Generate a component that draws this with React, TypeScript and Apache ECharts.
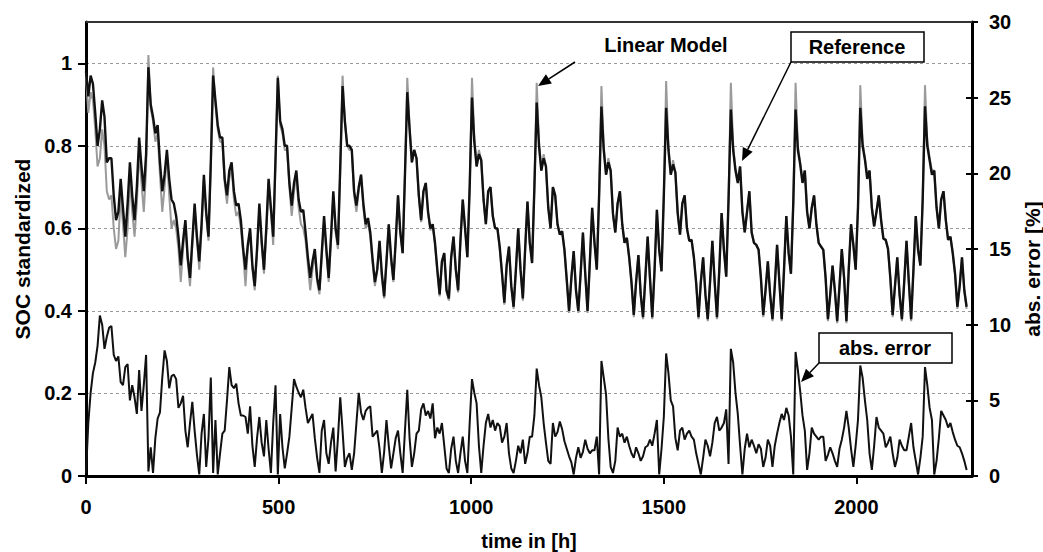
import React, { useEffect, useRef } from "react";
import * as echarts from "echarts";

// sampling step of the series (hours)
const STEP_HOURS = 6;
const X_TICKS = [0, 500, 1000, 1500, 2000];
const SOC_TICKS = [0, 0.2, 0.4, 0.6, 0.8, 1];
const ERR_TICKS = [0, 5, 10, 15, 20, 25, 30];

// Linear Model (black), SOC standardized, every 6 h from t = 0
const linearModel = [
  // t 0..156
  0.98, 0.92, 0.97, 0.95, 0.88, 0.8, 0.84, 0.91, 0.87, 0.76, 0.77, 0.77, 0.68, 0.62, 0.64, 0.72, 0.65, 0.58, 0.66, 0.76, 0.68, 0.62, 0.7, 0.82, 0.75, 0.69, 0.78,
  // t 162..
  0.99, 0.9, 0.87, 0.83, 0.85, 0.76, 0.69, 0.73, 0.79, 0.72, 0.67, 0.66, 0.63, 0.58, 0.51, 0.57, 0.62, 0.53, 0.48, 0.57, 0.66, 0.58, 0.52, 0.61, 0.73, 0.64, 0.58, 0.76,
  // t 330..
  0.97, 0.91, 0.85, 0.82, 0.82, 0.72, 0.68, 0.74, 0.76, 0.69, 0.655, 0.66, 0.62, 0.55, 0.5, 0.56, 0.6, 0.51, 0.46, 0.55, 0.66, 0.57, 0.5, 0.6, 0.72, 0.65, 0.58, 0.77,
  // t 498..
  0.965, 0.86, 0.84, 0.8, 0.8, 0.71, 0.655, 0.71, 0.74, 0.67, 0.64, 0.645, 0.59, 0.53, 0.48, 0.52, 0.55, 0.48, 0.45, 0.54, 0.63, 0.55, 0.48, 0.58, 0.69, 0.6, 0.56, 0.75,
  // t 666..
  0.945, 0.86, 0.8, 0.8, 0.79, 0.69, 0.655, 0.7, 0.73, 0.66, 0.61, 0.625, 0.59, 0.525, 0.47, 0.5, 0.57, 0.49, 0.435, 0.52, 0.61, 0.53, 0.475, 0.57, 0.68, 0.59, 0.54, 0.73,
  // t 834..
  0.93, 0.84, 0.76, 0.79, 0.77, 0.68, 0.62, 0.69, 0.71, 0.64, 0.6, 0.61, 0.565, 0.5, 0.44, 0.52, 0.54, 0.45, 0.43, 0.53, 0.58, 0.5, 0.45, 0.57, 0.67, 0.6, 0.53, 0.7,
  // t 1002..
  0.917, 0.81, 0.75, 0.78, 0.765, 0.67, 0.61, 0.69, 0.7, 0.63, 0.6, 0.6, 0.555, 0.49, 0.42, 0.51, 0.556, 0.46, 0.41, 0.5, 0.6, 0.5, 0.43, 0.55, 0.665, 0.565, 0.516, 0.7,
  // t 1170..
  0.905, 0.8, 0.74, 0.77, 0.75, 0.65, 0.6, 0.7, 0.68, 0.61, 0.585, 0.593, 0.548, 0.475, 0.4, 0.48, 0.545, 0.45, 0.4, 0.49, 0.59, 0.49, 0.4, 0.52, 0.65, 0.565, 0.5, 0.68,
  // t 1338..
  0.895, 0.79, 0.73, 0.76, 0.74, 0.635, 0.59, 0.66, 0.69, 0.61, 0.565, 0.577, 0.53, 0.47, 0.39, 0.47, 0.535, 0.44, 0.385, 0.48, 0.58, 0.48, 0.385, 0.5, 0.645, 0.548, 0.496, 0.68,
  // t 1506..
  0.892, 0.79, 0.73, 0.755, 0.735, 0.637, 0.585, 0.66, 0.68, 0.6, 0.57, 0.572, 0.53, 0.467, 0.385, 0.47, 0.53, 0.44, 0.38, 0.47, 0.57, 0.47, 0.385, 0.5, 0.637, 0.548, 0.483, 0.67,
  // t 1674..
  0.888, 0.79, 0.74, 0.71, 0.75, 0.64, 0.59, 0.64, 0.69, 0.59, 0.565, 0.56, 0.548, 0.48, 0.39, 0.45, 0.52, 0.44, 0.38, 0.46, 0.56, 0.47, 0.38, 0.5, 0.63, 0.54, 0.49, 0.66,
  // t 1842..
  0.888, 0.79, 0.755, 0.71, 0.74, 0.64, 0.6, 0.65, 0.68, 0.61, 0.565, 0.556, 0.548, 0.48, 0.38, 0.44, 0.51, 0.45, 0.375, 0.46, 0.55, 0.48, 0.375, 0.5, 0.61, 0.56, 0.5, 0.65,
  // t 2010..
  0.892, 0.8, 0.767, 0.72, 0.74, 0.65, 0.605, 0.64, 0.68, 0.62, 0.575, 0.572, 0.55, 0.48, 0.39, 0.46, 0.53, 0.44, 0.38, 0.47, 0.57, 0.47, 0.38, 0.5, 0.63, 0.548, 0.51, 0.67,
  // t 2178..2286
  0.896, 0.8, 0.765, 0.73, 0.74, 0.65, 0.6, 0.67, 0.69, 0.62, 0.572, 0.58, 0.54, 0.49, 0.41, 0.46, 0.53, 0.45, 0.41,
];

// Reference (grey), SOC standardized, every 6 h from t = 0
const reference = [
  0.97, 0.88, 0.93, 0.91, 0.84, 0.75, 0.77, 0.84, 0.8, 0.69, 0.67, 0.68, 0.6, 0.55, 0.57, 0.68, 0.61, 0.53, 0.6, 0.72, 0.64, 0.58, 0.66, 0.79, 0.71, 0.64, 0.74,
  1.02, 0.89, 0.86, 0.81, 0.83, 0.73, 0.64, 0.7, 0.78, 0.68, 0.6, 0.62, 0.6, 0.55, 0.47, 0.55, 0.61, 0.52, 0.46, 0.56, 0.65, 0.57, 0.5, 0.6, 0.72, 0.63, 0.57, 0.75,
  0.99, 0.9, 0.84, 0.81, 0.81, 0.71, 0.66, 0.72, 0.75, 0.67, 0.63, 0.64, 0.6, 0.54, 0.46, 0.55, 0.59, 0.5, 0.45, 0.54, 0.65, 0.56, 0.49, 0.59, 0.71, 0.64, 0.56, 0.76,
  0.97, 0.85, 0.83, 0.79, 0.79, 0.7, 0.63, 0.69, 0.73, 0.65, 0.61, 0.6, 0.57, 0.51, 0.45, 0.5, 0.54, 0.47, 0.44, 0.53, 0.62, 0.54, 0.47, 0.57, 0.68, 0.59, 0.55, 0.74,
  0.97, 0.86, 0.8, 0.79, 0.79, 0.68, 0.64, 0.69, 0.73, 0.65, 0.6, 0.615, 0.58, 0.515, 0.46, 0.5, 0.565, 0.48, 0.43, 0.52, 0.61, 0.52, 0.47, 0.57, 0.68, 0.59, 0.54, 0.73,
  0.965, 0.85, 0.76, 0.79, 0.77, 0.675, 0.615, 0.69, 0.71, 0.635, 0.595, 0.61, 0.56, 0.495, 0.435, 0.52, 0.54, 0.445, 0.425, 0.53, 0.58, 0.5, 0.445, 0.57, 0.67, 0.6, 0.53, 0.7,
  0.965, 0.82, 0.75, 0.79, 0.765, 0.67, 0.61, 0.69, 0.7, 0.63, 0.6, 0.6, 0.55, 0.49, 0.415, 0.51, 0.556, 0.46, 0.405, 0.5, 0.6, 0.5, 0.425, 0.55, 0.665, 0.565, 0.516, 0.7,
  0.953, 0.81, 0.74, 0.78, 0.75, 0.65, 0.6, 0.7, 0.68, 0.61, 0.585, 0.593, 0.548, 0.475, 0.395, 0.48, 0.545, 0.45, 0.395, 0.49, 0.59, 0.49, 0.395, 0.52, 0.65, 0.565, 0.5, 0.68,
  0.945, 0.8, 0.73, 0.77, 0.74, 0.635, 0.59, 0.66, 0.69, 0.61, 0.565, 0.577, 0.53, 0.47, 0.385, 0.47, 0.535, 0.44, 0.38, 0.48, 0.58, 0.48, 0.38, 0.5, 0.645, 0.548, 0.496, 0.68,
  0.957, 0.8, 0.73, 0.765, 0.735, 0.637, 0.585, 0.66, 0.68, 0.6, 0.57, 0.572, 0.53, 0.467, 0.38, 0.47, 0.53, 0.44, 0.375, 0.47, 0.57, 0.47, 0.38, 0.5, 0.637, 0.548, 0.483, 0.67,
  0.953, 0.8, 0.745, 0.72, 0.75, 0.64, 0.59, 0.64, 0.69, 0.59, 0.565, 0.56, 0.548, 0.48, 0.385, 0.45, 0.52, 0.44, 0.375, 0.46, 0.56, 0.47, 0.375, 0.5, 0.63, 0.54, 0.49, 0.66,
  0.953, 0.8, 0.76, 0.72, 0.74, 0.64, 0.6, 0.65, 0.68, 0.61, 0.565, 0.556, 0.548, 0.48, 0.375, 0.44, 0.51, 0.45, 0.37, 0.46, 0.55, 0.48, 0.37, 0.5, 0.61, 0.56, 0.5, 0.65,
  0.947, 0.81, 0.77, 0.73, 0.74, 0.65, 0.605, 0.64, 0.68, 0.62, 0.575, 0.572, 0.55, 0.48, 0.385, 0.46, 0.53, 0.44, 0.375, 0.47, 0.57, 0.47, 0.375, 0.5, 0.63, 0.548, 0.51, 0.67,
  0.947, 0.81, 0.77, 0.74, 0.74, 0.65, 0.6, 0.67, 0.69, 0.62, 0.572, 0.58, 0.54, 0.49, 0.405, 0.46, 0.53, 0.45, 0.405,
];

// abs. error [%], every 6 h from t = 0 (12 values = 72 h per row)
const absError = [
  0.2, 3.5, 5.5, 6.8, 7.5, 8.6, 10.6, 10.0, 8.4, 9.2, 9.8, 9.9,
  8.0, 7.6, 7.9, 6.2, 6.0, 7.2, 7.4, 5.0, 6.0, 5.2, 4.1, 7.0,
  4.3, 6.0, 8.0, 0.3, 1.9, 0.2, 2.5, 3.8, 4.2, 6.5, 8.3, 7.6,
  5.8, 6.6, 6.7, 6.4, 4.5, 4.8, 5.3, 3.0, 1.9, 3.5, 4.9, 3.0,
  1.4, 0.1, 2.8, 4.1, 0.6, 2.5, 6.5, 0.2, 3.7, 0.1, 1.5, 2.8,
  3.0, 5.0, 7.2, 6.0, 5.8, 6.1, 4.8, 4.0, 4.0, 3.9, 2.8, 4.6,
  2.0, 0.6, 2.5, 3.9, 2.2, 1.3, 3.7, 1.8, 0.2, 3.5, 6.0, 0.1,
  4.1, 1.9, 0.5, 1.5, 2.6, 4.5, 6.4, 5.9, 5.5, 5.2, 5.7, 4.5,
  3.5, 3.8, 4.1, 2.5, 1.2, 0.2, 3.0, 3.7, 1.5, 0.8, 2.2, 3.2,
  0.3, 2.5, 5.2, 3.0, 0.6, 1.2, 1.5, 0.4, 1.5, 3.5, 5.5, 4.2,
  3.7, 4.3, 4.5, 4.6, 2.6, 2.8, 3.0, 1.8, 0.2, 1.6, 3.7, 2.0,
  0.5, 1.5, 2.5, 3.0, 1.5, 0.2, 3.0, 5.7, 2.5, 0.6, 1.5, 2.8,
  3.0, 4.4, 4.8, 4.0, 4.3, 3.8, 4.8, 2.5, 3.2, 2.8, 3.5, 2.0,
  0.5, 0.2, 1.8, 2.6, 1.0, 0.2, 1.5, 2.6, 1.0, 0.2, 3.5, 6.4,
  5.5, 4.8, 2.0, 0.2, 2.0, 3.5, 4.1, 3.2, 3.7, 3.0, 3.5, 3.3,
  2.2, 2.6, 3.5, 1.5, 0.5, 0.2, 1.0, 2.0, 1.5, 2.4, 0.8, 1.5,
  2.6, 2.6, 4.0, 7.1, 6.0, 5.2, 3.5, 2.2, 1.0, 0.8, 3.5, 2.6,
  2.9, 3.6, 3.1, 2.3, 1.8, 1.3, 0.9, 0.1, 1.2, 1.9, 1.2, 1.6,
  2.4, 1.8, 1.5, 1.7, 1.7, 2.6, 0.1, 7.6, 6.5, 5.4, 2.5, 0.6,
  0.2, 1.0, 3.2, 2.6, 2.8, 2.2, 2.6, 2.0, 1.5, 1.2, 1.9, 1.5,
  1.0, 1.3, 1.9, 2.0, 2.4, 2.0, 2.8, 3.7, 0.1, 1.8, 3.9, 8.1,
  6.8, 5.0, 4.6, 2.5, 1.7, 3.0, 3.2, 2.4, 2.8, 3.0, 2.6, 2.4,
  1.5, 0.8, 0.1, 1.2, 2.4, 2.0, 1.3, 2.2, 3.5, 3.9, 3.0, 3.2,
  3.5, 4.4, 0.8, 8.4, 7.5, 5.5, 4.1, 2.0, 0.1, 1.8, 2.8, 1.9,
  2.4, 2.0, 1.5, 2.1, 1.8, 0.6, 1.2, 2.4, 2.0, 0.6, 2.0, 2.8,
  3.5, 4.1, 3.7, 4.5, 4.0, 2.6, 0.1, 8.2, 7.0, 5.6, 4.0, 3.0,
  0.4, 1.5, 3.2, 2.8, 2.6, 2.4, 2.6, 2.6, 1.0, 1.4, 1.9, 1.5,
  1.0, 0.6, 1.8, 2.4, 3.2, 4.3, 3.2, 1.8, 0.6, 2.0, 3.7, 7.3,
  6.5, 5.0, 3.7, 1.5, 0.4, 2.0, 3.9, 3.2, 3.0, 2.8, 1.9, 2.2,
  2.6, 1.5, 0.6, 1.2, 2.4, 2.0, 1.7, 1.7, 2.6, 3.5, 1.9, 1.0,
  0.1, 1.2, 2.6, 7.2, 6.0, 4.5, 3.7, 0.1, 1.0, 2.5, 4.3, 4.0,
  3.7, 3.2, 3.5, 2.9, 2.4, 2.0, 1.9, 1.5, 1.0, 0.4,
];

const FONT = '"Liberation Sans", Arial, Helvetica, sans-serif';

const toPairs = (vals: number[]) => vals.map((v, i) => [i * STEP_HOURS, v]);

function arrow(x1: number, y1: number, x2: number, y2: number) {
  const len = 13;
  const half = 5.5;
  const dx = x2 - x1;
  const dy = y2 - y1;
  const d = Math.sqrt(dx * dx + dy * dy);
  const ux = dx / d;
  const uy = dy / d;
  const bx = x2 - ux * len;
  const by = y2 - uy * len;
  return [
    {
      type: "line",
      z: 100,
      shape: { x1, y1, x2: bx, y2: by },
      style: { stroke: "#000", lineWidth: 1.5 },
    },
    {
      type: "polygon",
      z: 100,
      shape: {
        points: [
          [x2, y2],
          [bx - uy * half, by + ux * half],
          [bx + uy * half, by - ux * half],
        ],
      },
      style: { fill: "#000" },
    },
  ];
}

function label(text: string, x: number, y: number) {
  return {
    type: "text",
    z: 101,
    x,
    y,
    style: {
      text,
      font: `bold 20px ${FONT}`,
      fill: "#000",
      align: "center",
      verticalAlign: "middle",
      textAlign: "center",
      textVerticalAlign: "middle",
    },
  };
}

function box(x: number, y: number, w: number, h: number) {
  return {
    type: "rect",
    z: 100,
    shape: { x, y, width: w, height: h },
    style: { fill: "#fff", stroke: "#000", lineWidth: 1.5 },
  };
}

export default function App() {
  const ref = useRef<HTMLDivElement>(null);

  useEffect(() => {
    if (!ref.current) return;
    const chart = echarts.init(ref.current, null, { renderer: "svg" });
    const axisText = { fontSize: 20, fontWeight: "bold", color: "#000", fontFamily: FONT };
    const plain = (v: number) => String(v);

    chart.setOption({
      animation: false,
      backgroundColor: "#fff",
      grid: { left: 86, right: 71, top: 22, bottom: 76, containLabel: false, outerBoundsMode: "none" },
      xAxis: {
        type: "value",
        min: 0,
        max: 2300,
        interval: 500,
        axisLine: { show: true, lineStyle: { color: "#000", width: 3 } },
        axisTick: { show: true, length: 8, customValues: X_TICKS, lineStyle: { color: "#000", width: 2 } },
        axisLabel: { ...axisText, margin: 21, customValues: X_TICKS, formatter: plain },
        splitLine: { show: false },
        name: "time in [h]",
        nameLocation: "middle",
        nameGap: 55,
        nameTextStyle: { ...axisText },
      },
      yAxis: [
        {
          type: "value",
          position: "left",
          min: 0,
          max: 1.1,
          interval: 0.2,
          axisLine: { show: true, lineStyle: { color: "#000", width: 3 } },
          axisTick: { show: true, length: 8, customValues: SOC_TICKS, lineStyle: { color: "#000", width: 2 } },
          axisLabel: { ...axisText, margin: 14, customValues: SOC_TICKS, formatter: plain },
          splitLine: { show: true, lineStyle: { color: "#9a9a9a", type: [3, 3], width: 1 } },
          name: "SOC standardized",
          nameLocation: "middle",
          nameGap: 53,
          nameTextStyle: { ...axisText, fontSize: 21 },
        },
        {
          type: "value",
          position: "right",
          min: 0,
          max: 30,
          interval: 5,
          axisLine: { show: true, lineStyle: { color: "#000", width: 3 } },
          axisTick: { show: true, length: 6, customValues: ERR_TICKS, lineStyle: { color: "#000", width: 2 } },
          axisLabel: { ...axisText, margin: 17, customValues: ERR_TICKS, formatter: plain },
          splitLine: { show: false },
          name: "abs. error [%]",
          nameLocation: "middle",
          nameGap: 42,
          nameRotate: 90,
          nameTextStyle: { ...axisText, fontSize: 21, padding: [0, 40, 0, 0] },
        },
        {
          type: "value",
          position: "right",
          min: 0,
          max: 30,
          interval: 5,
          axisLine: { show: false },
          axisTick: { show: true, inside: true, length: 6, customValues: ERR_TICKS, lineStyle: { color: "#000", width: 2 } },
          axisLabel: { show: false },
          splitLine: { show: false },
        },
      ],
      series: [
        {
          name: "Reference",
          type: "line",
          data: toPairs(reference),
          showSymbol: false,
          symbol: "none",
          lineStyle: { color: "#9a9a9a", width: 2 },
          z: 2,
        },
        {
          name: "Linear Model",
          type: "line",
          data: toPairs(linearModel),
          showSymbol: false,
          symbol: "none",
          lineStyle: { color: "#111", width: 2.4 },
          z: 3,
        },
        {
          name: "abs. error",
          type: "line",
          yAxisIndex: 1,
          data: toPairs(absError),
          showSymbol: false,
          symbol: "none",
          lineStyle: { color: "#111", width: 2 },
          z: 3,
        },
      ],
      graphic: [
        {
          type: "line",
          z: 90,
          shape: { x1: 86, y1: 22, x2: 972, y2: 22 },
          style: { stroke: "#333", lineWidth: 2 },
        },
        label("Linear Model", 666, 45),
        ...arrow(575, 62, 538, 86),
        box(791, 32, 133, 30),
        label("Reference", 857, 47),
        ...arrow(791, 62, 742, 161),
        box(819, 333, 133, 30),
        label("abs. error", 885, 348),
        ...arrow(819, 363, 801, 382),
      ],
    });

    return () => chart.dispose();
  }, []);

  return (
    <div
      ref={ref}
      style={{ position: "fixed", left: 0, top: 0, width: 1043, height: 552, background: "#fff" }}
    />
  );
}
